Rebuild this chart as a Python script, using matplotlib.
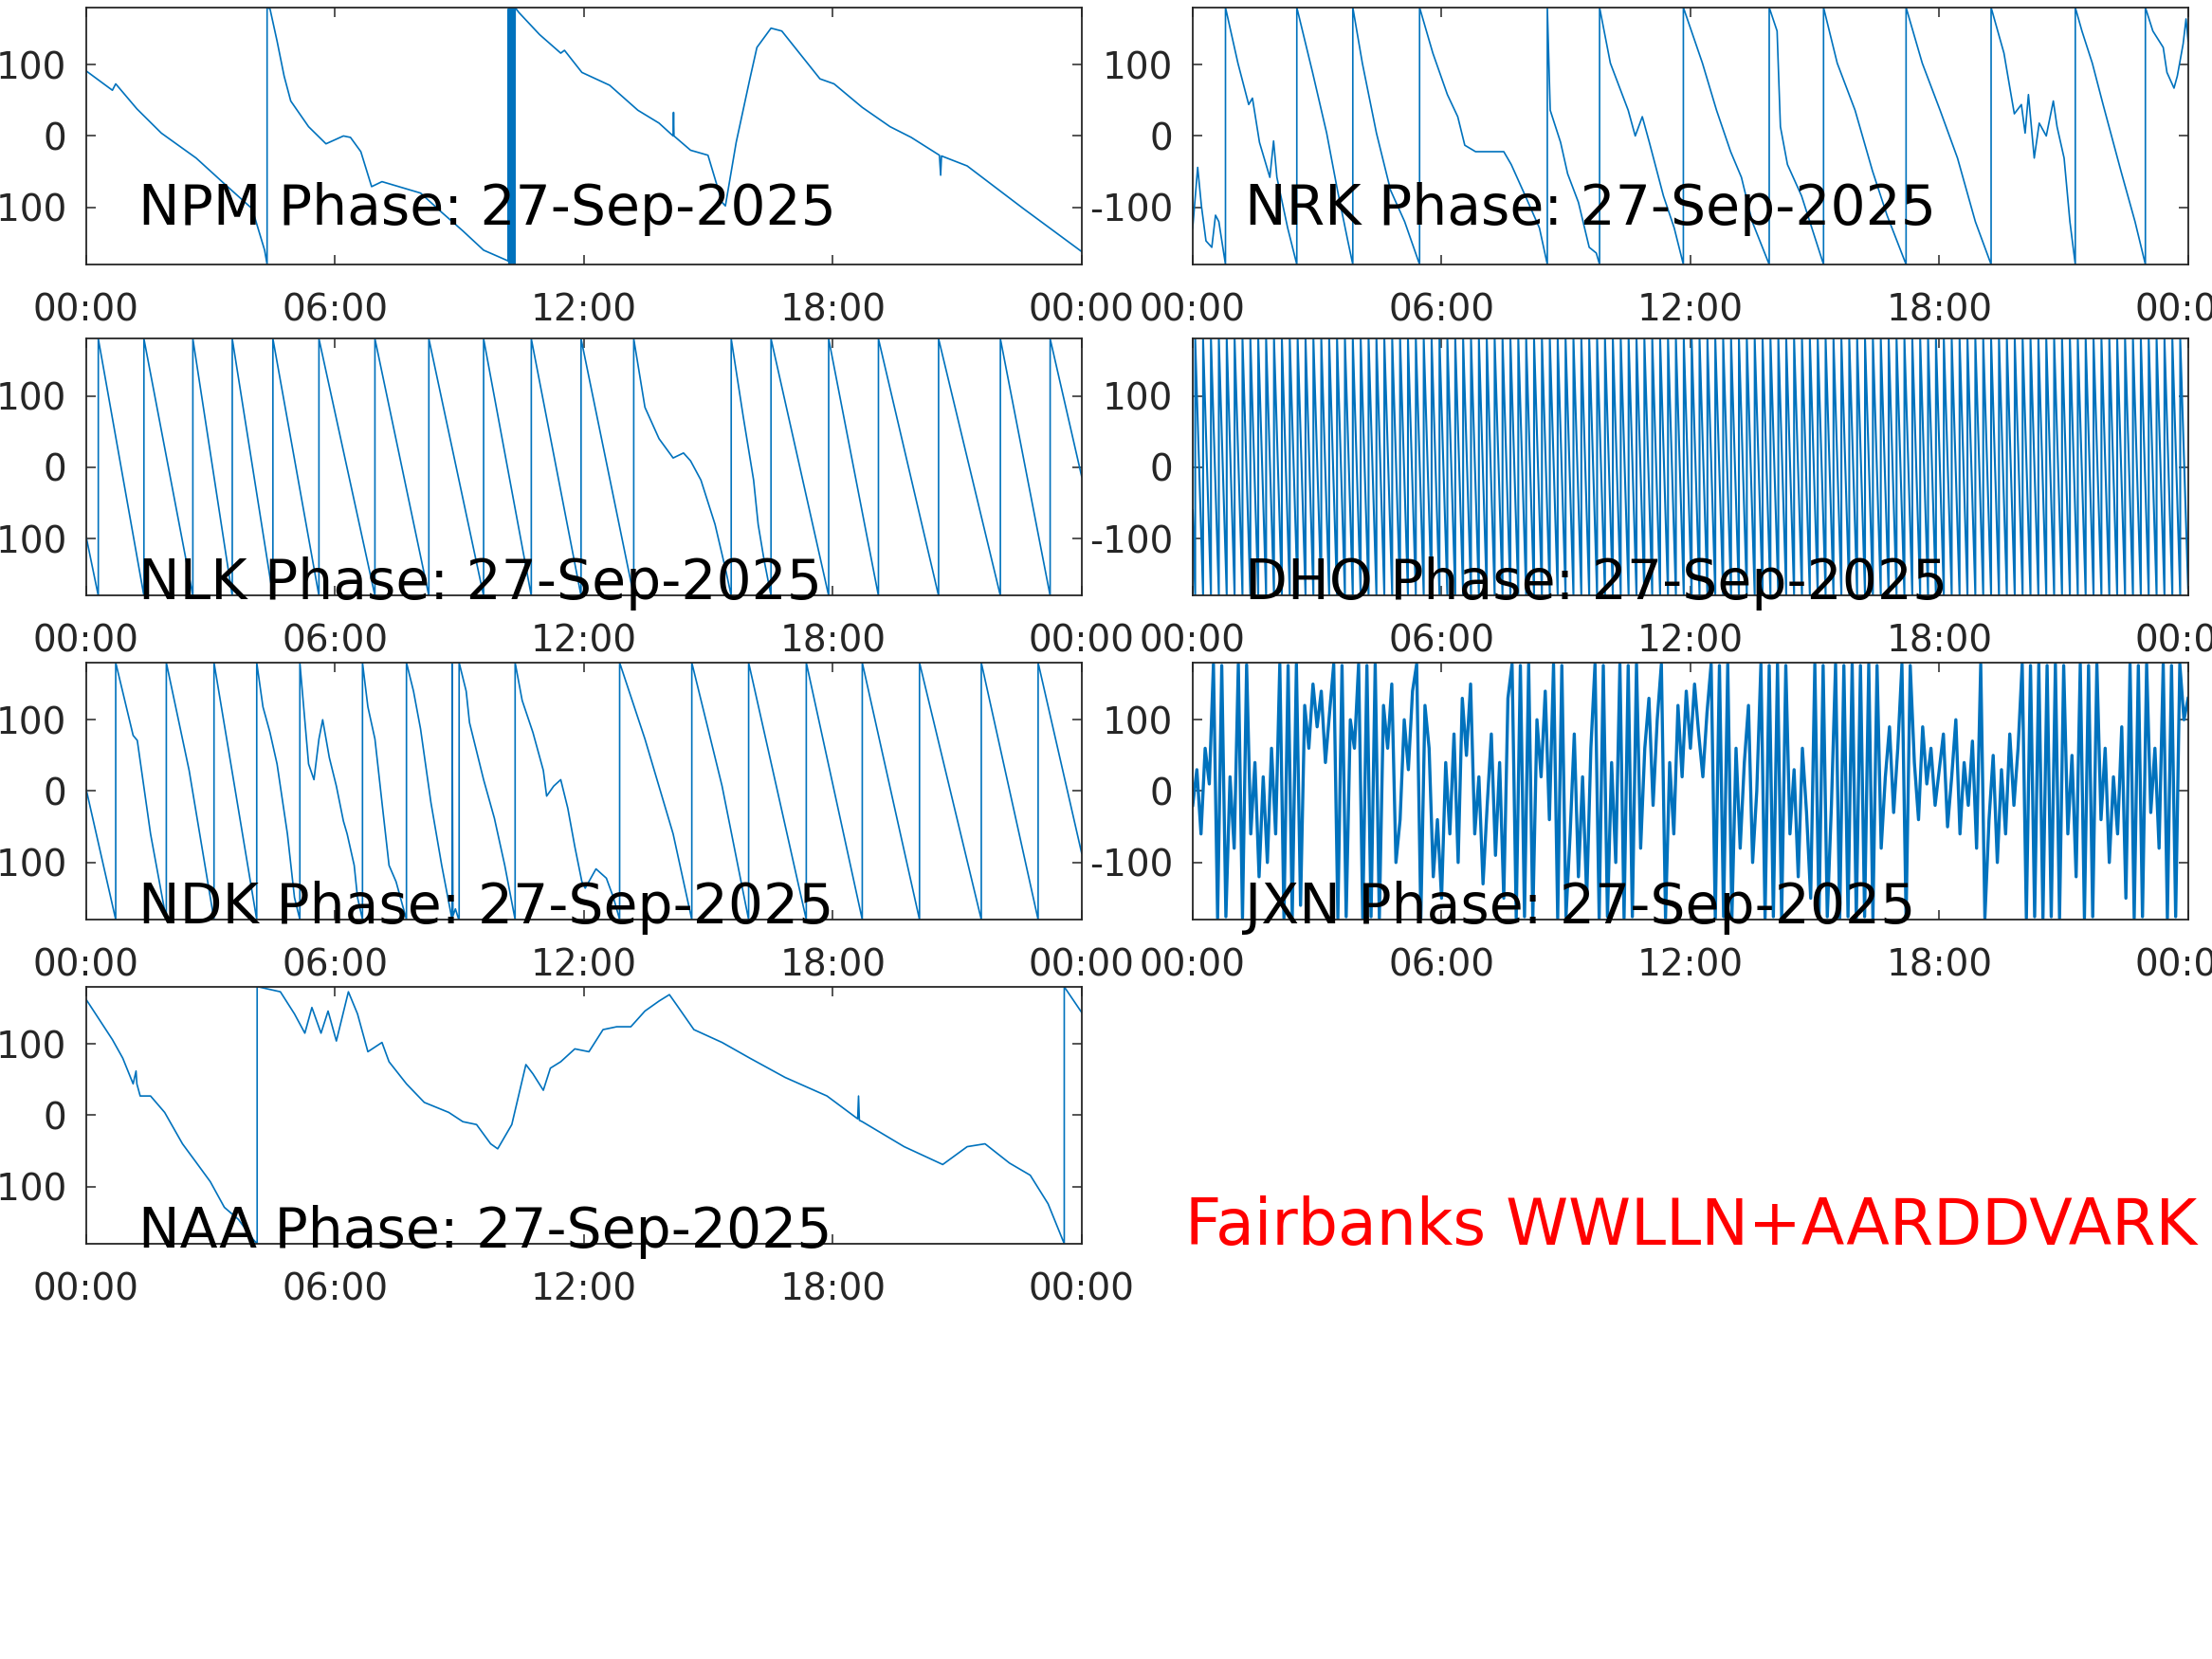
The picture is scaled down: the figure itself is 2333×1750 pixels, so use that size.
import numpy as np
import matplotlib
matplotlib.use('Agg')
import matplotlib.pyplot as plt

# phase in degrees vs time of day (hours)
date_str = '27-Sep-2025'
hour_ticks = [0, 6, 12, 18, 24]
hour_labels = ['00:00', '06:00', '12:00', '18:00', '00:00']
phase_ticks = [-100, 0, 100]

npm_knots = [(0.00, 91), (0.63, 64), (0.71, 73), (1.22, 38), (1.81, 4), (2.65, -31),
             (3.33, -67), (4.00, -102), (4.30, -160), (4.36, -180), (4.36, 180),
             (4.43, 178), (4.60, 133), (4.77, 84), (4.93, 49), (5.36, 13), (5.78, -11),
             (6.20, 0), (6.37, -2), (6.62, -22), (6.88, -71), (7.13, -64), (8.06, -80),
             (8.57, -107), (9.08, -133), (9.58, -160), (10.17, -175), (10.18, 178),
             (10.19, -179), (10.20, 179), (10.21, -178), (10.22, 180), (10.23, -180),
             (10.25, 180), (10.26, -178), (10.27, 179), (10.29, -179), (10.30, 180),
             (10.31, -179), (10.32, 178), (10.33, -180), (10.34, 180), (10.43, 173),
             (10.93, 142), (11.44, 116), (11.53, 120), (11.95, 89), (12.62, 71),
             (13.30, 36), (13.81, 18), (14.15, 0), (14.16, 33), (14.17, 0), (14.57, -20),
             (14.99, -27), (15.33, -93), (15.41, -98), (15.67, -9), (16.00, 80),
             (16.17, 124), (16.51, 151), (16.77, 147), (17.69, 80), (18.03, 73),
             (18.71, 40), (19.38, 13), (19.89, -2), (20.57, -27), (20.60, -55),
             (20.62, -28), (21.24, -42), (22.60, -102), (24.00, -162)]

nrk_knots = [(0.00, -129), (0.12, -44), (0.21, -98), (0.32, -147), (0.46, -156),
             (0.55, -111), (0.63, -120), (0.79, -180), (0.79, 180),
             (1.09, 102), (1.35, 44), (1.44, 53), (1.61, -9), (1.86, -58), (1.95, -7),
             (2.03, -58), (2.29, -129), (2.51, -180), (2.51, 180),
             (2.89, 89), (3.23, 4), (3.49, -76), (3.74, -147), (3.86, -180), (3.86, 180),
             (4.09, 102), (4.43, 4), (4.77, -76), (5.11, -120), (5.47, -180), (5.47, 180),
             (5.79, 116), (6.14, 58), (6.39, 27), (6.56, -13), (6.82, -22), (7.50, -22),
             (7.68, -40), (8.02, -84), (8.36, -129), (8.55, -180), (8.55, 180),
             (8.62, 36), (8.87, -9), (9.04, -53), (9.30, -93), (9.56, -156), (9.73, -164),
             (9.81, -180), (9.81, 180),
             (10.07, 102), (10.50, 36), (10.67, 0), (10.84, 27), (11.01, -9), (11.35, -84),
             (11.61, -129), (11.83, -180), (11.83, 180),
             (12.29, 102), (12.63, 36), (12.97, -22), (13.23, -58), (13.49, -120),
             (13.90, -180), (13.90, 180),
             (14.09, 147), (14.17, 13), (14.34, -40), (14.68, -84), (15.21, -180), (15.21, 180),
             (15.54, 102), (15.97, 36), (16.39, -49), (16.74, -111), (17.20, -180), (17.20, 180),
             (17.59, 102), (18.02, 36), (18.44, -31), (18.87, -120), (19.25, -180), (19.25, 180),
             (19.56, 116), (19.73, 58), (19.81, 31), (19.98, 44), (20.07, 4), (20.15, 58),
             (20.29, -31), (20.41, 18), (20.58, 0), (20.75, 49), (20.84, 13), (21.01, -31),
             (21.15, -120), (21.28, -180), (21.28, 180),
             (21.44, 147), (21.69, 102), (21.95, 44), (22.38, -49), (22.72, -120),
             (22.97, -180), (22.97, 180),
             (23.15, 147), (23.40, 124), (23.49, 89), (23.66, 67), (23.74, 84), (23.88, 129),
             (23.95, 164), (24.00, 133)]

nlk_knots = [(0.00, -98), (0.29, -180), (0.29, 180), (1.39, -180), (1.39, 180),
             (2.57, -180), (2.57, 180), (3.52, -180), (3.52, 180), (4.50, -180), (4.50, 180),
             (5.61, -180), (5.61, 180), (6.96, -180), (6.96, 180), (8.26, -180), (8.26, 180),
             (9.58, -180), (9.58, 180), (10.73, -180), (10.73, 180), (11.93, -180), (11.93, 180),
             (13.20, -180), (13.20, 180), (13.47, 84), (13.81, 40), (14.15, 13), (14.40, 20),
             (14.57, 9), (14.82, -18), (15.16, -80), (15.41, -142), (15.55, -180), (15.55, 180),
             (15.84, 71), (16.09, -18), (16.20, -80), (16.34, -129), (16.51, -180), (16.51, 180),
             (17.90, -180), (17.90, 180), (19.10, -180), (19.10, 180), (20.55, -180), (20.55, 180),
             (22.04, -180), (22.04, 180), (23.24, -180), (23.24, 180), (24.00, -13)]

ndk_knots = [(0.00, 2), (0.71, -180), (0.71, 180), (1.13, 78), (1.23, 71), (1.55, -60),
             (1.93, -180), (1.93, 180), (2.48, 29), (3.08, -180), (3.08, 180), (4.11, -180),
             (4.11, 180), (4.26, 118), (4.43, 82), (4.60, 38), (4.85, -60), (5.02, -149),
             (5.15, -180), (5.15, 180), (5.36, 38), (5.49, 16), (5.61, 73), (5.70, 100),
             (5.86, 47), (6.03, 7), (6.20, -42), (6.29, -60), (6.46, -104), (6.54, -149),
             (6.66, -180), (6.66, 180), (6.79, 118), (6.96, 73), (7.13, -16), (7.30, -104),
             (7.47, -127), (7.72, -180), (7.72, 180), (7.89, 140), (8.06, 87), (8.31, -16),
             (8.57, -104), (8.82, -180), (8.82, 178), (8.84, -175), (8.90, -165), (8.97, -178),
             (8.99, -180), (8.99, 180), (9.16, 140), (9.24, 96), (9.58, 16), (9.84, -38),
             (10.09, -104), (10.34, -180), (10.34, 180), (10.51, 127), (10.77, 82), (11.02, 29),
             (11.10, -7), (11.27, 7), (11.44, 16), (11.61, -24), (11.78, -78), (11.95, -127),
             (12.03, -136), (12.29, -109), (12.54, -122), (12.71, -149), (12.86, -180),
             (12.86, 180), (13.47, 73), (14.15, -60), (14.60, -180), (14.60, 180), (15.33, 7),
             (15.97, -180), (15.97, 180), (17.36, -180), (17.36, 180), (18.71, -180),
             (18.71, 180), (20.09, -180), (20.09, 180), (21.58, -180), (21.58, 180),
             (22.95, -180), (22.95, 180), (24.00, -87)]

naa_knots = [(0.00, 162), (0.63, 106), (0.88, 80), (1.13, 44), (1.20, 62), (1.22, 44),
             (1.30, 27), (1.55, 27), (1.89, 4), (2.32, -40), (2.65, -66), (2.99, -93),
             (3.33, -129), (3.67, -146), (4.01, -173), (4.12, -180), (4.12, 180),
             (4.14, 180), (4.68, 173), (5.02, 142), (5.27, 115), (5.44, 151), (5.66, 115),
             (5.83, 146), (6.03, 104), (6.32, 173), (6.54, 142), (6.79, 89), (7.13, 102),
             (7.30, 75), (7.72, 44), (8.15, 18), (8.74, 4), (9.08, -9), (9.41, -13),
             (9.75, -40), (9.92, -47), (10.26, -13), (10.60, 71), (10.77, 58), (11.02, 35),
             (11.19, 66), (11.44, 75), (11.78, 93), (12.12, 89), (12.46, 120), (12.79, 124),
             (13.13, 124), (13.47, 146), (13.81, 160), (14.06, 169), (14.23, 155),
             (14.65, 120), (15.33, 102), (16.00, 80), (16.85, 53), (17.86, 27), (18.60, -5),
             (18.62, 27), (18.64, -7), (18.71, -9), (19.72, -44), (20.65, -69), (21.24, -44),
             (21.67, -40), (22.26, -67), (22.76, -84), (23.19, -124), (23.58, -180),
             (23.58, 180), (24.00, 144)]

# DHO: times where the phase wraps from -180 back to +180
dho_start = -60
dho_end = -170
dho_wraps = [0.06, 0.25, 0.44, 0.63, 0.82, 1.01, 1.20, 1.39, 1.58, 1.77, 1.96, 2.15, 2.34,
             2.53, 2.72, 2.91, 3.10, 3.29, 3.48, 3.67, 3.86, 4.05, 4.24, 4.43, 4.62, 4.81,
             5.00, 5.19, 5.38, 5.57, 5.76, 5.95, 6.14, 6.33, 6.52, 6.71, 6.90, 7.09, 7.28,
             7.47, 7.66, 7.85, 8.04, 8.23, 8.42, 8.61, 8.80, 8.99, 9.18, 9.37, 9.56, 9.75,
             9.94, 10.13, 10.32, 10.51, 10.70, 10.89, 11.08, 11.27, 11.46, 11.65, 11.84,
             12.03, 12.22, 12.41, 12.60, 12.79, 12.98, 13.17, 13.36, 13.55, 13.74, 13.93,
             14.12, 14.31, 14.50, 14.69, 14.88, 15.07, 15.26, 15.45, 15.64, 15.83, 16.02,
             16.21, 16.40, 16.59, 16.78, 16.97, 17.16, 17.35, 17.54, 17.73, 17.92, 18.11,
             18.30, 18.49, 18.68, 18.87, 19.06, 19.25, 19.44, 19.63, 19.82, 20.01, 20.20,
             20.39, 20.58, 20.77, 20.96, 21.15, 21.34, 21.53, 21.72, 21.91, 22.10, 22.29,
             22.48, 22.67, 22.86, 23.05, 23.24, 23.43, 23.62, 23.81]

# JXN: noisy phase sampled every 0.1 h
jxn_phase = [-20, 30, -60, 60, 10, 178, -178, 176, -176, 20,
             -80, 178, -178, 177, -60, 40, -120, 20, -100, 60,
             -60, 178, -178, 176, -176, 178, -160, 120, 60, 150,
             90, 140, 40, 110, 178, -178, 176, -176, 100, 60,
             178, -178, 176, -176, 178, -178, 120, 60, 150, -100,
             -40, 100, 30, 140, 178, -178, 120, 60, -120, -40,
             -150, 40, -60, 80, -100, 130, 50, 150, -60, 20,
             -130, -20, 80, -90, 40, -150, 130, 178, -178, 176,
             -176, 178, -178, 100, 20, 140, -40, 178, -178, 176,
             -176, -60, 80, -120, 20, -150, 60, 178, -178, 176,
             -176, 40, -100, 178, -178, 176, -176, 178, -80, 60,
             130, -20, 100, 178, -178, 40, -60, 120, 20, 140,
             60, 150, 80, 20, 110, 178, -178, 176, -176, 178,
             -178, 60, -80, 40, 120, -100, 0, 178, -178, 176,
             -176, 178, -178, 176, -60, 30, -120, 60, -30, -150,
             178, -178, 176, -176, -20, 178, -178, 176, -176, 178,
             -178, 176, -176, 178, -178, 176, -80, 20, 90, -30,
             60, 178, -178, 176, 40, -40, 90, 10, 60, -20,
             30, 80, -50, 20, 100, -60, 40, -20, 70, -80,
             178, -178, -40, 50, -100, 30, -60, 80, -20, 60,
             178, -178, 176, -176, 178, -178, 176, -176, 178, -178,
             176, -60, 50, -120, 178, -178, 176, -176, 178, -40,
             60, -100, 20, -60, 90, -150, 178, -178, 176, -176,
             178, -30, 60, -80, 178, -178, 176, -176, 178, 100,
             130]


def dho_series():
    t = [0.0]
    v = [dho_start]
    for w in dho_wraps:
        t += [w, w]
        v += [-180, 180]
    t.append(24.0)
    v.append(dho_end)
    return np.array(t), np.array(v)


series = {
    'NPM': np.array(npm_knots).T,
    'NRK': np.array(nrk_knots).T,
    'NLK': np.array(nlk_knots).T,
    'DHO': dho_series(),
    'NDK': np.array(ndk_knots).T,
    'JXN': (np.linspace(0, 24, len(jxn_phase)), np.array(jxn_phase)),
    'NAA': np.array(naa_knots).T,
}

# panel layout: name, left, bottom, title y (axes fraction), line width
panels = [('NPM', 0.039, 0.8406, 0.155, 1.2), ('NRK', 0.5392, 0.8406, 0.155, 1.2),
          ('NLK', 0.039, 0.6409, -0.015, 1.2), ('DHO', 0.5392, 0.6409, -0.015, 1.5),
          ('NDK', 0.039, 0.4457, -0.015, 1.2), ('JXN', 0.5392, 0.4457, -0.015, 2.4),
          ('NAA', 0.039, 0.2503, -0.015, 1.2)]

line_col = '#0072BD'
axis_col = '#262626'

fig = plt.figure(figsize=(23.33, 17.5), dpi=100)

for name, left, bottom, ty, lw in panels:
    ax = fig.add_axes([left, bottom, 0.450, 0.1549])
    t, v = series[name]
    ax.plot(t, v, color=line_col, lw=lw)
    ax.set_xlim(0, 24)
    ax.set_ylim(-180, 180)
    ax.set_xticks(hour_ticks)
    ax.set_xticklabels(hour_labels)
    ax.set_yticks(phase_ticks)
    ax.set_yticklabels([str(p) for p in phase_ticks])
    ax.tick_params(direction='in', top=True, right=True, length=7, width=1.1,
                   labelsize=28, colors=axis_col)
    ax.tick_params(axis='x', pad=21)
    ax.tick_params(axis='y', pad=15)
    for sp in ax.spines.values():
        sp.set_color(axis_col)
        sp.set_linewidth(1.3)
    ax.text(0.052, ty, name + ' Phase: ' + date_str, transform=ax.transAxes,
            fontsize=42, color='black', va='baseline', ha='left', zorder=5)

fig.text(0.5358, 0.2497, 'Fairbanks WWLLN+AARDDVARK', color='red', fontsize=48,
         va='baseline', ha='left')

fig.savefig('out.png', dpi=100)
